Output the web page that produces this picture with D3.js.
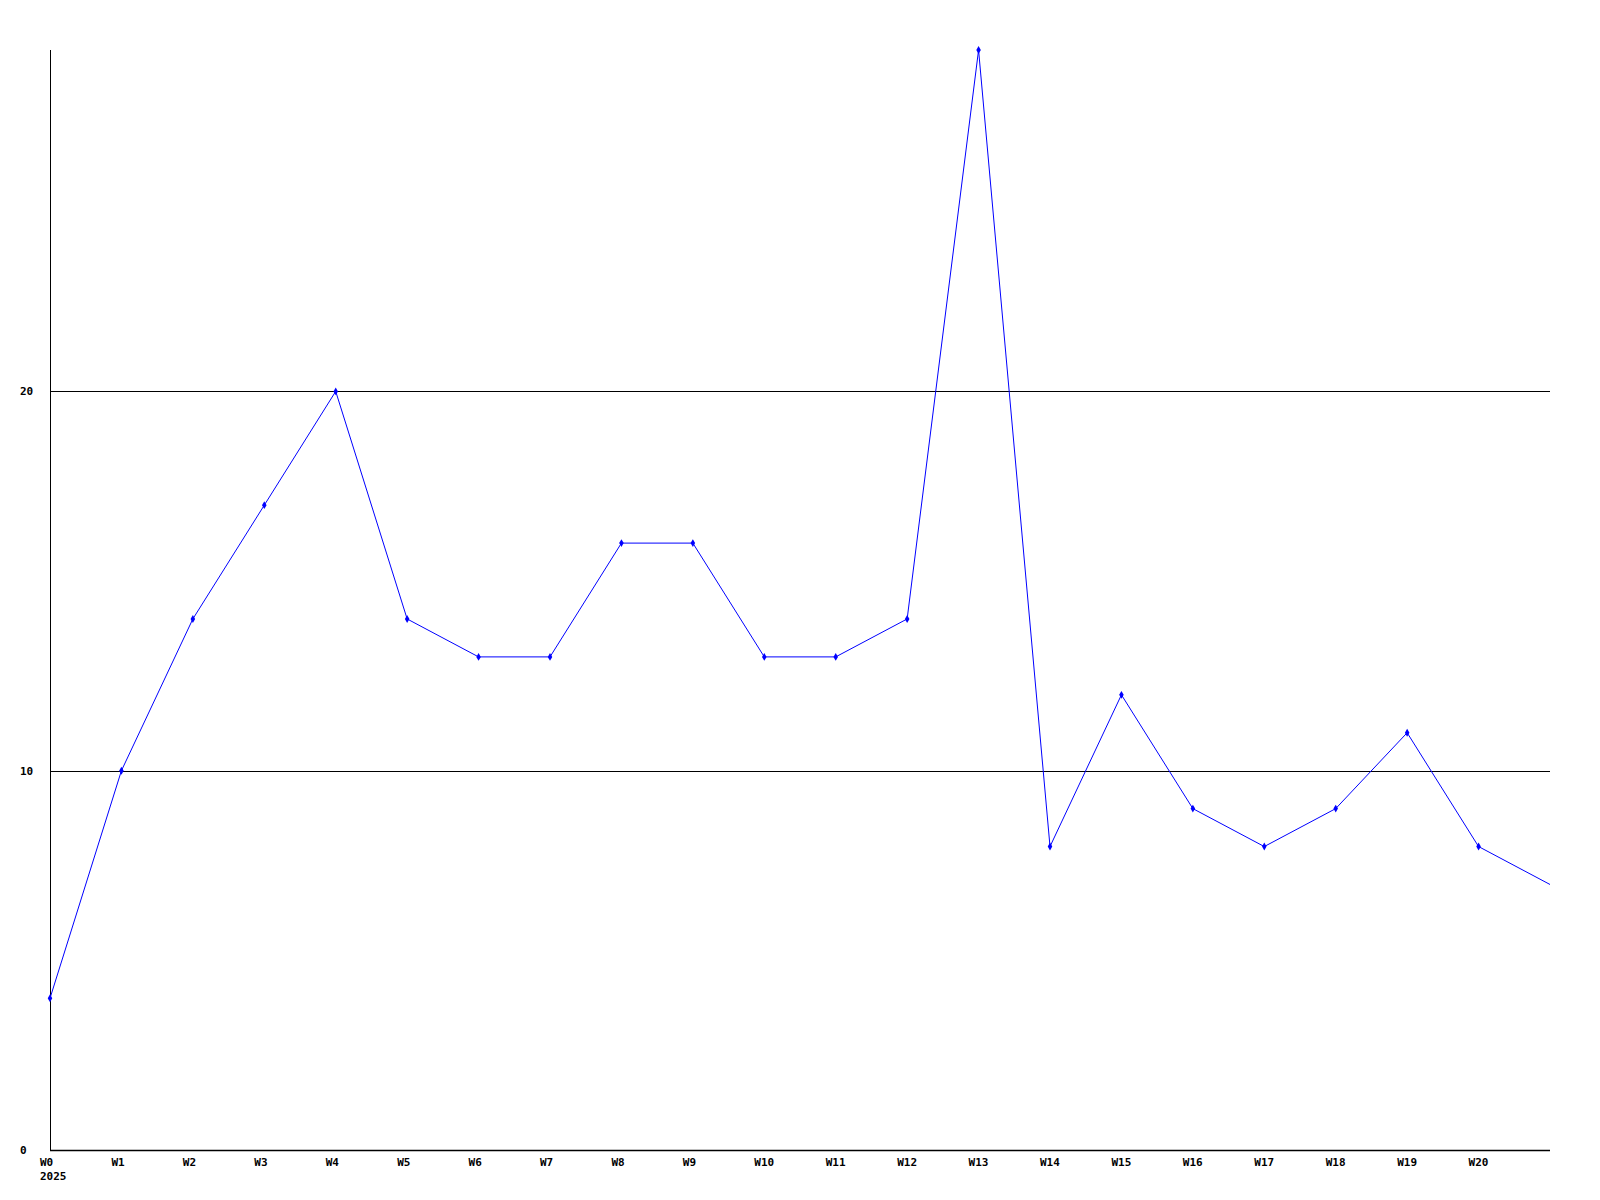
<!DOCTYPE html>
<html>
<head>
<meta charset="utf-8">
<script src="https://cdn.jsdelivr.net/npm/d3@7"></script>
<style>
html,body{margin:0;padding:0;background:#fff;}
svg{display:block;}
text{font-family:"DejaVu Sans Mono","Liberation Mono",monospace;font-weight:bold;font-size:11px;fill:#000;}
</style>
</head>
<body>
<svg id="chart" width="1600" height="1200"></svg>
<script>
const weeks = ["W0","W1","W2","W3","W4","W5","W6","W7","W8","W9","W10","W11","W12","W13","W14","W15","W16","W17","W18","W19","W20","W21"];
const values = [4,10,14,17,20,14,13,13,16,16,13,13,14,29,8,12,9,8,9,11,8,7];
const tickLabels = ["W0","W1","W2","W3","W4","W5","W6","W7","W8","W9","W10","W11","W12","W13","W14","W15","W16","W17","W18","W19","W20"];
const yTicks = [0,10,20];
const yearLabel = "2025";

(function(){
const svg = d3.select("#chart");
const mLeft = 50, mRight = 1550, mTop = 50, mBottom = 1150;

const x = d3.scaleLinear().domain([0, weeks.length - 1]).range([mLeft, mRight]);
const y = d3.scaleLinear().domain([0, 29]).range([mBottom, mTop]);

// gridlines
svg.append("g").selectAll("line").data(yTicks.filter(d => d > 0)).join("line")
  .attr("x1", mLeft).attr("x2", mRight)
  .attr("y1", d => Math.round(y(d)) + 0.5).attr("y2", d => Math.round(y(d)) + 0.5)
  .attr("stroke", "#000").attr("stroke-width", 1);

// axes lines
svg.append("line").attr("x1", mLeft + 0.5).attr("x2", mLeft + 0.5).attr("y1", mTop).attr("y2", mBottom + 1)
  .attr("stroke", "#000").attr("stroke-width", 1);
svg.append("line").attr("x1", mLeft).attr("x2", mRight).attr("y1", mBottom + 0.5).attr("y2", mBottom + 0.5)
  .attr("stroke", "#000").attr("stroke-width", 1.5);

// y labels
svg.append("g").selectAll("text").data(yTicks).join("text")
  .attr("x", 20).attr("y", d => y(d) + 4)
  .text(d => d);

// x labels
svg.append("g").selectAll("text").data(tickLabels).join("text")
  .attr("x", (d, i) => x(i) - 10).attr("y", mBottom + 16)
  .text(d => d);
svg.append("text").attr("x", x(0) - 10).attr("y", mBottom + 30).text(yearLabel);

// line
const line = d3.line().x((d, i) => x(i)).y(d => y(d));
svg.append("path").datum(values)
  .attr("d", line).attr("fill", "none").attr("stroke", "#0000ff").attr("stroke-width", 1);

// markers
svg.append("g").selectAll("path").data(values.slice(0, tickLabels.length)).join("path")
  .attr("transform", (d, i) => `translate(${x(i)},${y(d)})`)
  .attr("d", d3.symbol().type(d3.symbolDiamond).size(18))
  .attr("fill", "#0000ff");
})();
</script>
</body>
</html>
